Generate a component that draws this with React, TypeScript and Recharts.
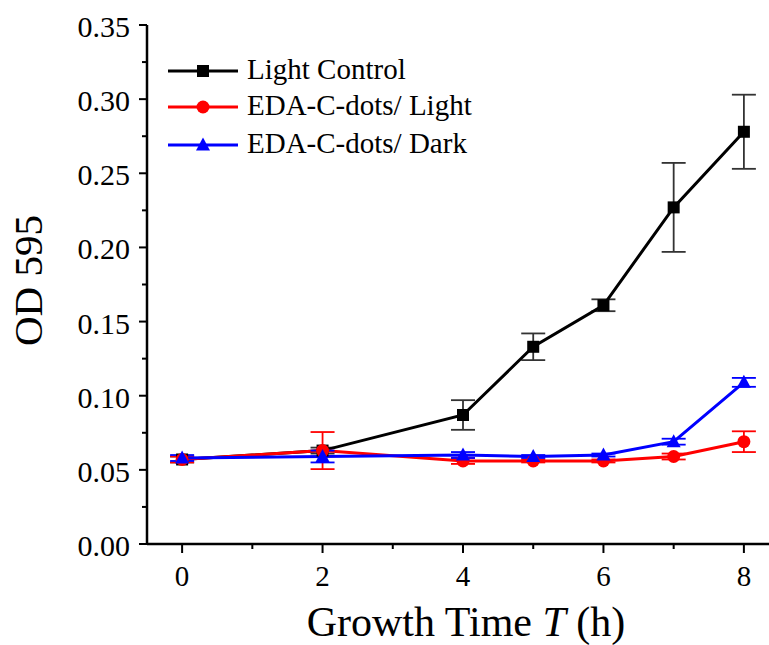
import React from "react";
import { LineChart, Line, XAxis, YAxis, ErrorBar, Legend } from "recharts";

const times = [0, 2, 4, 5, 6, 7, 8];
const lightControl = [0.057, 0.063, 0.087, 0.133, 0.161, 0.227, 0.278];
const lightControlErr = [0.002, 0.002, 0.01, 0.009, 0.004, 0.03, 0.025];
const edaLight = [0.057, 0.063, 0.056, 0.056, 0.056, 0.059, 0.069];
const edaLightErr = [0.002, 0.0125, 0.002, 0.001, 0.001, 0.002, 0.007];
const edaDark = [0.058, 0.059, 0.06, 0.059, 0.06, 0.069, 0.109];
const edaDarkErr = [0.002, 0.004, 0.002, 0.001, 0.001, 0.002, 0.003];

const xTicks = [0, 1, 2, 3, 4, 5, 6, 7, 8];
const yTicks = [0, 0.025, 0.05, 0.075, 0.1, 0.125, 0.15, 0.175, 0.2, 0.225, 0.25, 0.275, 0.3, 0.325, 0.35];

const seriesNames = ["Light Control", "EDA-C-dots/ Light", "EDA-C-dots/ Dark"];
const seriesColors = ["#000000", "#ff0000", "#0000ff"];

const data = times.map((t, i) => ({
  t,
  lc: lightControl[i],
  lcErr: lightControlErr[i],
  el: edaLight[i],
  elErr: edaLightErr[i],
  ed: edaDark[i],
  edErr: edaDarkErr[i],
}));

const FONT = "'Liberation Serif', 'Times New Roman', serif";

const SquareMarker = ({ cx, cy, color }: any) => (
  <rect x={cx - 6} y={cy - 6} width={12} height={12} fill={color} />
);
const CircleMarker = ({ cx, cy, color }: any) => <circle cx={cx} cy={cy} r={6.5} fill={color} />;
const TriangleMarker = ({ cx, cy, color }: any) => (
  <polygon points={`${cx},${cy - 7.5} ${cx + 7},${cy + 5.5} ${cx - 7},${cy + 5.5}`} fill={color} />
);

const markers = [SquareMarker, CircleMarker, TriangleMarker];

const makeDot = (k: number) => (props: any) => {
  const M = markers[k];
  if (props.cx == null || props.cy == null) return <g key={`d${k}-${props.index}`} />;
  return (
    <g key={`d${k}-${props.index}`}>
      <M cx={props.cx} cy={props.cy} color={seriesColors[k]} />
    </g>
  );
};

const XTick = (props: any) => {
  const { x, y, payload } = props;
  const v = payload.value;
  const major = v % 2 === 0;
  return (
    <g>
      <line x1={x} x2={x} y1={y} y2={y + (major ? 9 : 5)} stroke="#000" strokeWidth={2} />
      {major && (
        <text x={x} y={y + 42} textAnchor="middle" fontFamily={FONT} fontSize={29} fill="#000">
          {v}
        </text>
      )}
    </g>
  );
};

const YTick = (props: any) => {
  const { x, y, payload } = props;
  const v = payload.value;
  const major = Math.round(v * 1000) % 50 === 0;
  return (
    <g>
      <line x1={x - (major ? 8 : 5)} x2={x} y1={y} y2={y} stroke="#000" strokeWidth={2} />
      {major && (
        <text x={x - 17} y={y + 12} textAnchor="end" fontFamily={FONT} fontSize={30} fill="#000">
          {v.toFixed(2)}
        </text>
      )}
    </g>
  );
};

const XTitle = (props: any) => {
  const vb = props.viewBox;
  return (
    <text x={vb.x + vb.width / 2 + 3} y={vb.y + 92} textAnchor="middle" fontFamily={FONT} fontSize={42} fill="#000">
      Growth Time <tspan fontStyle="italic">T</tspan> (h)
    </text>
  );
};

const YTitle = (props: any) => {
  const vb = props.viewBox;
  const cx = vb.x - 5;
  const cy = vb.y + vb.height / 2 - 4;
  return (
    <text x={cx} y={cy} transform={`rotate(-90 ${cx} ${cy})`} textAnchor="middle" fontFamily={FONT} fontSize={41} fill="#000">
      OD 595
    </text>
  );
};

const LegendContent = () => {
  const rows = [26, 62, 100];
  return (
    <div style={{ position: "relative", height: 0, width: 0 }}>
      <svg style={{ position: "absolute", left: 160, top: 45 }} width={320} height={130}>
        {seriesNames.map((name, k) => {
          const M = markers[k];
          const y = rows[k];
          return (
            <g key={name}>
              <line x1={8} x2={78} y1={y} y2={y} stroke={seriesColors[k]} strokeWidth={3} />
              <M cx={43} cy={y} color={seriesColors[k]} />
              <text x={87} y={y + 8} fontFamily={FONT} fontSize={29} fill="#000">
                {name}
              </text>
            </g>
          );
        })}
      </svg>
    </div>
  );
};

export default function App() {
  return (
    <div style={{ position: "fixed", left: 0, top: 0, width: 769, height: 645, overflow: "hidden", background: "#fff" }}>
      <LineChart width={800} height={645} data={data} margin={{ top: 25, right: 21, bottom: 21, left: 47 }}>
        <XAxis
          dataKey="t"
          type="number"
          domain={[-0.5, 8.5]}
          ticks={xTicks}
          interval={0}
          tick={<XTick />}
          tickLine={false}
          tickSize={0}
          tickMargin={0}
          height={80}
          axisLine={{ stroke: "#000", strokeWidth: 2.5 }}
          label={{ value: "Growth Time T (h)", content: <XTitle /> }}
        />
        <XAxis
          xAxisId="top"
          orientation="top"
          dataKey="t"
          type="number"
          domain={[-0.5, 8.5]}
          height={0}
          tick={false}
          tickLine={false}
          axisLine={{ stroke: "#000", strokeWidth: 2.5 }}
        />
        <YAxis
          type="number"
          domain={[0, 0.35]}
          ticks={yTicks}
          interval={0}
          width={100}
          tick={<YTick />}
          tickLine={false}
          tickSize={0}
          tickMargin={0}
          axisLine={{ stroke: "#000", strokeWidth: 2.5 }}
          label={{ value: "OD 595", content: <YTitle /> }}
        />
        <YAxis
          yAxisId="right"
          orientation="right"
          type="number"
          domain={[0, 0.35]}
          width={0}
          tick={false}
          tickLine={false}
          axisLine={{ stroke: "#000", strokeWidth: 2.5 }}
        />
        <Legend verticalAlign="top" layout="horizontal" wrapperStyle={{ left: 0, top: 0 }} content={<LegendContent />} />
        <Line dataKey="lc" stroke="#000" strokeWidth={3} dot={makeDot(0)} activeDot={false} isAnimationActive={false}>
          <ErrorBar dataKey="lcErr" direction="y" width={12} stroke="#333" strokeWidth={1.8} />
        </Line>
        <Line dataKey="el" stroke="#ff0000" strokeWidth={3} dot={makeDot(1)} activeDot={false} isAnimationActive={false}>
          <ErrorBar dataKey="elErr" direction="y" width={12} stroke="#ff0000" strokeWidth={1.8} />
        </Line>
        <Line dataKey="ed" stroke="#0000ff" strokeWidth={3} dot={makeDot(2)} activeDot={false} isAnimationActive={false}>
          <ErrorBar dataKey="edErr" direction="y" width={12} stroke="#0000ff" strokeWidth={1.8} />
        </Line>
      </LineChart>
    </div>
  );
}
